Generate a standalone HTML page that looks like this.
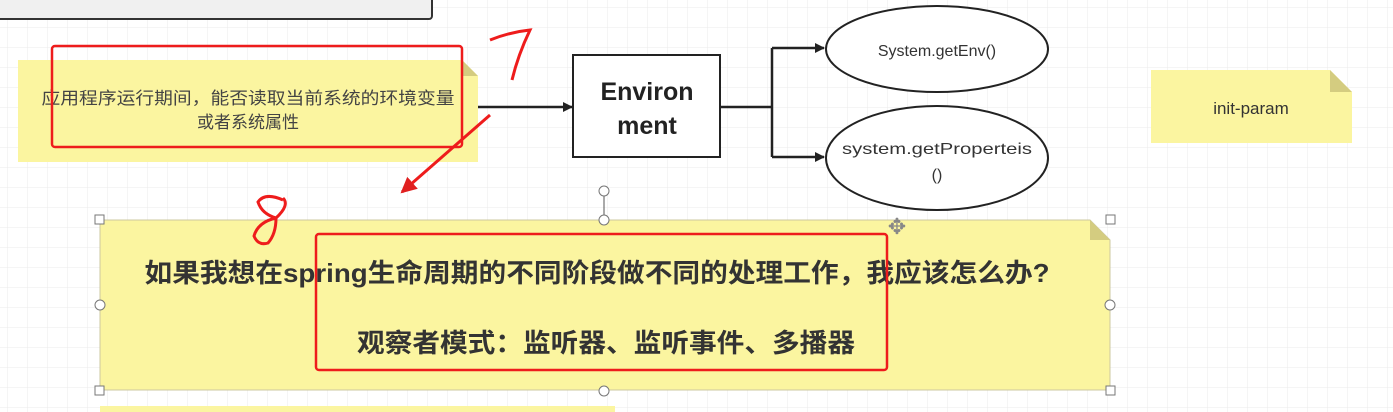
<!DOCTYPE html>
<html><head><meta charset="utf-8"><style>
body{margin:0;width:1393px;height:412px;overflow:hidden;background:#fff}
svg{display:block}
text{font-family:"Liberation Sans","Noto Sans CJK SC",sans-serif}
</style></head><body>
<svg width="1393" height="412" xmlns="http://www.w3.org/2000/svg">
<defs>
<pattern id="g" width="20" height="20" patternUnits="userSpaceOnUse" x="8" y="8">
<path d="M20 0V20H0" fill="none" stroke="#ebebeb" stroke-width="1"/></pattern>
<marker id="a" markerWidth="10" markerHeight="10" refX="9" refY="5" orient="auto" markerUnits="userSpaceOnUse"><path d="M0 0L10 5L0 10z" fill="#222"/></marker>
<marker id="r" markerWidth="16" markerHeight="16" refX="14" refY="8" orient="auto" markerUnits="userSpaceOnUse"><path d="M0 0L16 8L0 16z" fill="#e02020"/></marker>
</defs>
<rect width="1393" height="412" fill="url(#g)"/>
<rect x="-5" y="-10" width="437" height="29" rx="3" fill="#f0f0f0" stroke="#333" stroke-width="2"/>
<path d="M18 60H462L478 76V162H18z" fill="#fbf5a0"/>
<path d="M462 60L478 76H462z" fill="#d4cc80"/>
<text x="248" y="104" font-size="17" fill="#444" text-anchor="middle" textLength="413" lengthAdjust="spacingAndGlyphs">应用程序运行期间，能否读取当前系统的环境变量</text>
<text x="248" y="128" font-size="17" fill="#444" text-anchor="middle">或者系统属性</text>
<rect x="52" y="46" width="410" height="101" rx="3" fill="none" stroke="#ee1c1c" stroke-width="2.5"/>
<line x1="478" y1="107" x2="572" y2="107" stroke="#222" stroke-width="2.5" marker-end="url(#a)"/>
<rect x="573" y="55" width="147" height="102" fill="#fff" stroke="#222" stroke-width="2"/>
<text x="647" y="100" font-size="25" font-weight="bold" fill="#222" text-anchor="middle">Environ</text>
<text x="647" y="134" font-size="25" font-weight="bold" fill="#222" text-anchor="middle">ment</text>
<path d="M720 107H772M772 48V157" stroke="#222" stroke-width="2.5" fill="none"/>
<line x1="772" y1="48" x2="824" y2="48" stroke="#222" stroke-width="2.5" marker-end="url(#a)"/>
<line x1="772" y1="157" x2="824" y2="157" stroke="#222" stroke-width="2.5" marker-end="url(#a)"/>
<ellipse cx="937" cy="49" rx="111" ry="43" fill="#fff" stroke="#222" stroke-width="2"/>
<text x="937" y="56" font-size="16" fill="#333" text-anchor="middle">System.getEnv()</text>
<ellipse cx="937" cy="158" rx="111" ry="52" fill="#fff" stroke="#222" stroke-width="2"/>
<text x="937" y="154" font-size="16" fill="#333" text-anchor="middle" textLength="190" lengthAdjust="spacingAndGlyphs">system.getProperteis</text>
<text x="937" y="180" font-size="16" fill="#333" text-anchor="middle">()</text>
<path d="M1151 70H1330L1352 92V143H1151z" fill="#fbf5a0"/>
<path d="M1330 70L1352 92H1330z" fill="#d4cc80"/>
<text x="1251" y="114" font-size="17" fill="#333" text-anchor="middle">init-param</text>
<path d="M100 220H1090L1110 240V390H100z" fill="#fbf5a0" stroke="#ccc8a0"/>
<path d="M1090 220L1110 240H1090z" fill="#d4cc80"/>
<text x="597" y="282" font-size="26" font-weight="bold" fill="#333" text-anchor="middle" textLength="905" lengthAdjust="spacingAndGlyphs">如果我想在spring生命周期的不同阶段做不同的处理工作，我应该怎么办?</text>
<text x="606" y="352" font-size="26" font-weight="bold" fill="#333" text-anchor="middle" textLength="498" lengthAdjust="spacingAndGlyphs">观察者模式：监听器、监听事件、多播器</text>
<rect x="316" y="234" width="571" height="136" rx="3" fill="none" stroke="#ee1c1c" stroke-width="2.5"/>
<line x1="604" y1="196" x2="604" y2="220" stroke="#555"/>
<circle cx="604" cy="191" r="5" fill="#fff" stroke="#777"/>
<g fill="#fff" stroke="#777">
<rect x="95" y="215" width="9" height="9"/><rect x="1106" y="215" width="9" height="9"/>
<rect x="95" y="386" width="9" height="9"/><rect x="1106" y="386" width="9" height="9"/>
<circle cx="604" cy="220" r="5"/><circle cx="604" cy="391" r="5"/>
<circle cx="100" cy="305" r="5"/><circle cx="1110" cy="305" r="5"/>
</g>
<text x="897" y="234" font-size="22" fill="#888" text-anchor="middle">✥</text>
<rect x="100" y="406" width="515" height="6" fill="#fbf5a0"/>
<path d="M490 40Q510 32 530 30Q518 55 512 80" fill="none" stroke="#ee1c1c" stroke-width="3"/>
<line x1="490" y1="115" x2="402" y2="192" stroke="#ee1c1c" stroke-width="3" marker-end="url(#r)"/>
<path d="M283 200Q265 192 258 202Q262 214 276 218Q290 205 283 198M276 218Q258 222 254 236Q258 246 268 243Q276 234 276 218" fill="none" stroke="#ee1c1c" stroke-width="3"/>
</svg>
</body></html>
